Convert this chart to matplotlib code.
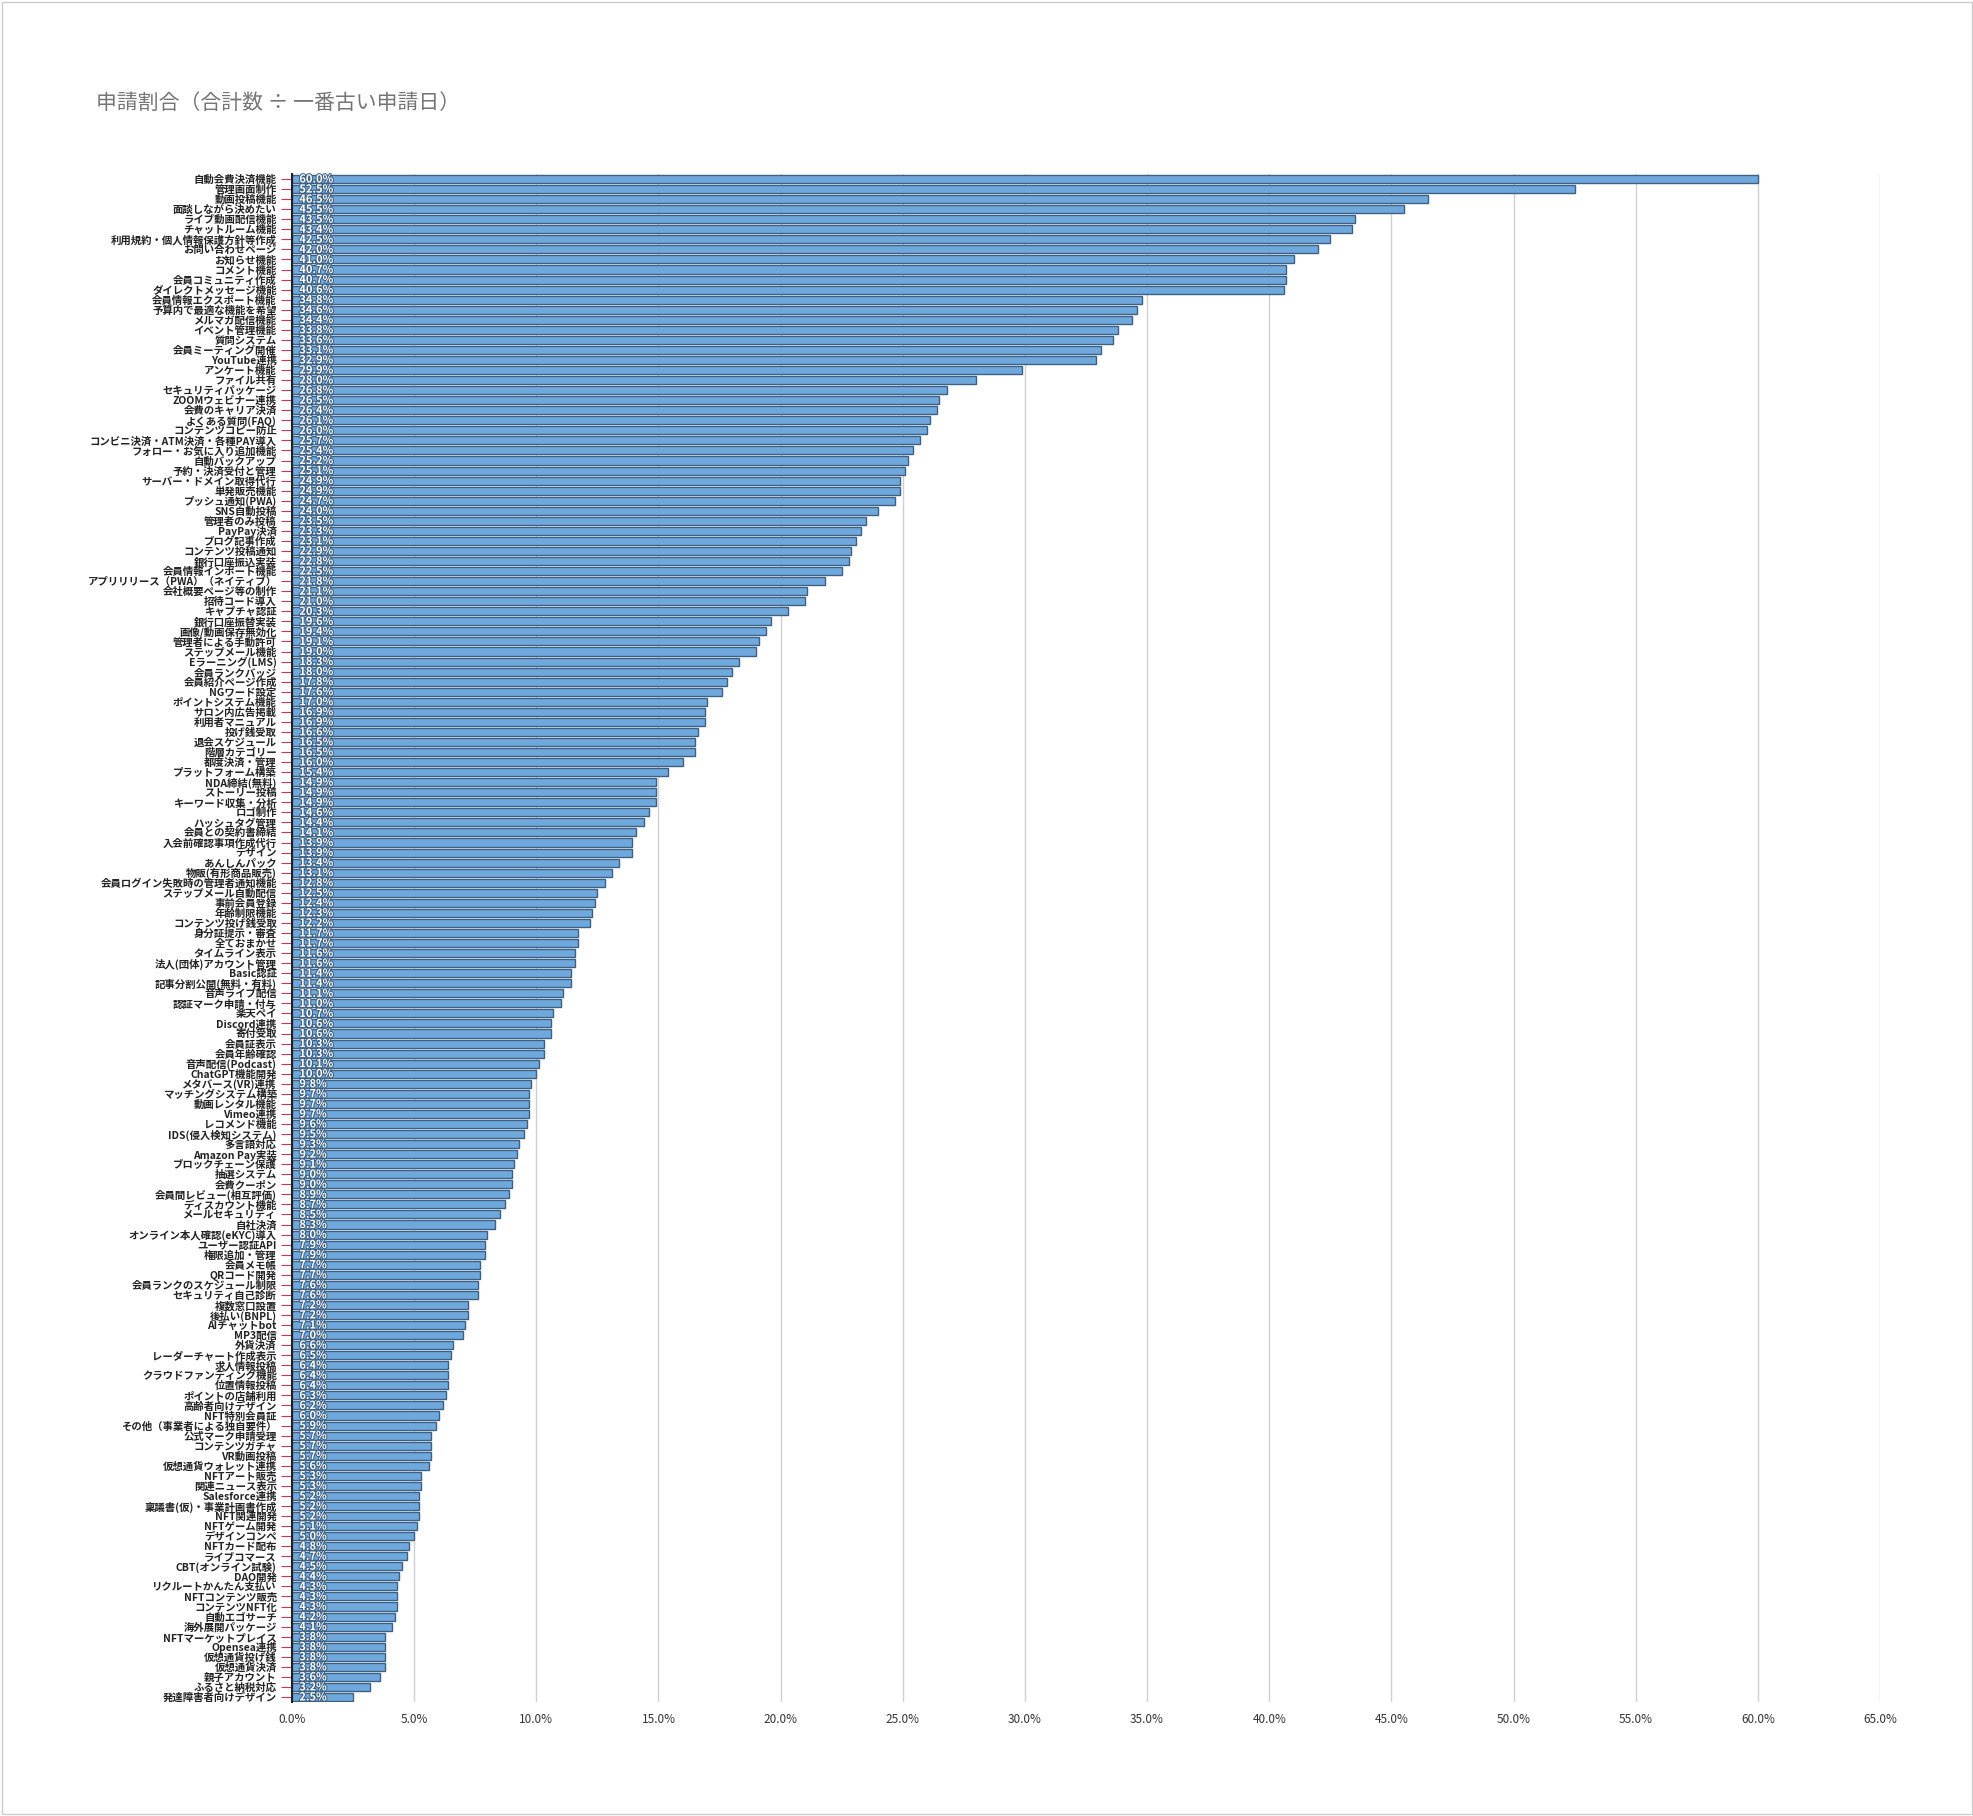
import matplotlib
matplotlib.use('Agg')
import matplotlib.pyplot as plt
import matplotlib.patheffects as pe
import numpy as np

plt.rcParams['font.family'] = ['Noto Sans CJK JP', 'DejaVu Sans']

labels = [
    '自動会費決済機能', '管理画面制作', '動画投稿機能', '面談しながら決めたい', 'ライブ動画配信機能',
    'チャットルーム機能', '利用規約・個人情報保護方針等作成', 'お問い合わせページ', 'お知らせ機能', 'コメント機能',
    '会員コミュニティ作成', 'ダイレクトメッセージ機能', '会員情報エクスポート機能', '予算内で最適な機能を希望', 'メルマガ配信機能',
    'イベント管理機能', '質問システム', '会員ミーティング開催', 'YouTube連携', 'アンケート機能',
    'ファイル共有', 'セキュリティパッケージ', 'ZOOMウェビナー連携', '会費のキャリア決済', 'よくある質問(FAQ)',
    'コンテンツコピー防止', 'コンビニ決済・ATM決済・各種PAY導入', 'フォロー・お気に入り追加機能', '自動バックアップ', '予約・決済受付と管理',
    'サーバー・ドメイン取得代行', '単発販売機能', 'プッシュ通知(PWA)', 'SNS自動投稿', '管理者のみ投稿',
    'PayPay決済', 'ブログ記事作成', 'コンテンツ投稿通知', '銀行口座振込実装', '会員情報インポート機能',
    'アプリリリース（PWA）（ネイティブ）', '会社概要ページ等の制作', '招待コード導入', 'キャプチャ認証', '銀行口座振替実装',
    '画像/動画保存無効化', '管理者による手動許可', 'ステップメール機能', 'Eラーニング(LMS)', '会員ランクバッジ',
    '会員紹介ページ作成', 'NGワード設定', 'ポイントシステム機能', 'サロン内広告掲載', '利用者マニュアル',
    '投げ銭受取', '退会スケジュール', '階層カテゴリー', '都度決済・管理', 'プラットフォーム構築',
    'NDA締結(無料)', 'ストーリー投稿', 'キーワード収集・分析', 'ロゴ制作', 'ハッシュタグ管理',
    '会員との契約書締結', '入会前確認事項作成代行', 'デザイン', 'あんしんパック', '物販(有形商品販売)',
    '会員ログイン失敗時の管理者通知機能', 'ステップメール自動配信', '事前会員登録', '年齢制限機能', 'コンテンツ投げ銭受取',
    '身分証提示・審査', '全ておまかせ', 'タイムライン表示', '法人(団体)アカウント管理', 'Basic認証',
    '記事分割公開(無料・有料)', '音声ライブ配信', '認証マーク申請・付与', '楽天ペイ', 'Discord連携',
    '寄付受取', '会員証表示', '会員年齢確認', '音声配信(Podcast)', 'ChatGPT機能開発',
    'メタバース(VR)連携', 'マッチングシステム構築', '動画レンタル機能', 'Vimeo連携', 'レコメンド機能',
    'IDS(侵入検知システム)', '多言語対応', 'Amazon Pay実装', 'ブロックチェーン保護', '抽選システム',
    '会費クーポン', '会員間レビュー(相互評価)', 'ディスカウント機能', 'メールセキュリティ', '自社決済',
    'オンライン本人確認(eKYC)導入', 'ユーザー認証API', '権限追加・管理', '会員メモ帳', 'QRコード開発',
    '会員ランクのスケジュール制限', 'セキュリティ自己診断', '複数窓口設置', '後払い(BNPL)', 'AIチャットbot',
    'MP3配信', '外貨決済', 'レーダーチャート作成表示', '求人情報投稿', 'クラウドファンディング機能',
    '位置情報投稿', 'ポイントの店舗利用', '高齢者向けデザイン', 'NFT特別会員証', 'その他（事業者による独自要件）',
    '公式マーク申請受理', 'コンテンツガチャ', 'VR動画投稿', '仮想通貨ウォレット連携', 'NFTアート販売',
    '関連ニュース表示', 'Salesforce連携', '稟議書(仮)・事業計画書作成', 'NFT関連開発', 'NFTゲーム開発',
    'デザインコンペ', 'NFTカード配布', 'ライブコマース', 'CBT(オンライン試験)', 'DAO開発',
    'リクルートかんたん支払い', 'NFTコンテンツ販売', 'コンテンツNFT化', '自動エゴサーチ', '海外展開パッケージ',
    'NFTマーケットプレイス', 'Opensea連携', '仮想通貨投げ銭', '仮想通貨決済', '親子アカウント',
    'ふるさと納税対応', '発達障害者向けデザイン',
]

values = [
    60.0, 52.5, 46.5, 45.5, 43.5, 43.4, 42.5, 42.0, 41.0, 40.7,
    40.7, 40.6, 34.8, 34.6, 34.4, 33.8, 33.6, 33.1, 32.9, 29.9,
    28.0, 26.8, 26.5, 26.4, 26.1, 26.0, 25.7, 25.4, 25.2, 25.1,
    24.9, 24.9, 24.7, 24.0, 23.5, 23.3, 23.1, 22.9, 22.8, 22.5,
    21.8, 21.1, 21.0, 20.3, 19.6, 19.4, 19.1, 19.0, 18.3, 18.0,
    17.8, 17.6, 17.0, 16.9, 16.9, 16.6, 16.5, 16.5, 16.0, 15.4,
    14.9, 14.9, 14.9, 14.6, 14.4, 14.1, 13.9, 13.9, 13.4, 13.1,
    12.8, 12.5, 12.4, 12.3, 12.2, 11.7, 11.7, 11.6, 11.6, 11.4,
    11.4, 11.1, 11.0, 10.7, 10.6, 10.6, 10.3, 10.3, 10.1, 10.0,
    9.8, 9.7, 9.7, 9.7, 9.6, 9.5, 9.3, 9.2, 9.1, 9.0,
    9.0, 8.9, 8.7, 8.5, 8.3, 8.0, 7.9, 7.9, 7.7, 7.7,
    7.6, 7.6, 7.2, 7.2, 7.1, 7.0, 6.6, 6.5, 6.4, 6.4,
    6.4, 6.3, 6.2, 6.0, 5.9, 5.7, 5.7, 5.7, 5.6, 5.3,
    5.3, 5.2, 5.2, 5.2, 5.1, 5.0, 4.8, 4.7, 4.5, 4.4,
    4.3, 4.3, 4.3, 4.2, 4.1, 3.8, 3.8, 3.8, 3.8, 3.6,
    3.2, 2.5,
]

xticks = np.arange(0, 66, 5)

fig = plt.figure(figsize=(19.74, 18.16), dpi=100)
ax = fig.add_axes([292 / 1974, 1 - 1702 / 1816, (1880 - 292) / 1974, (1702 - 174) / 1816])

y = np.arange(len(labels))
ax.barh(y, values, height=0.8, color='#6fa8dc', edgecolor='#3d6185', linewidth=1.0, zorder=3)
ax.set_ylim(len(labels) - 0.5, -0.5)
ax.set_xlim(0, 65)
ax.set_yticks(y)
ax.set_yticklabels(labels, fontsize=7.5, fontweight='bold', color='#222222')
ax.tick_params(axis='y', length=8, color='#cc3366', width=0.8, pad=3)
ax.set_xticks(xticks)
ax.set_xticklabels([f'{t:.1f}%' for t in xticks], fontsize=8.5, color='#333333')
ax.tick_params(axis='x', length=0, pad=8)
ax.grid(axis='x', color='#d0d0d0', linewidth=1, zorder=0)

for s in ('top', 'right', 'bottom'):
    ax.spines[s].set_visible(False)
ax.spines['left'].set_color('#222222')
ax.spines['left'].set_linewidth(1.5)
ax.spines['left'].set_zorder(4)

for yi, v in zip(y, values):
    ax.text(0.3, yi, f'{v:.1f}%', va='center', ha='left', fontsize=8, fontweight='bold',
            color='white', zorder=5,
            path_effects=[pe.withStroke(linewidth=1.5, foreground='#3d6185')])

fig.text(96 / 1974, 1 - 103 / 1816, '申請割合（合計数 ÷ 一番古い申請日）', fontsize=15,
         color='#757575', va='center', ha='left')

# outer frame
fig.patches.append(plt.Rectangle((0.001, 0.001), 0.998, 0.998, transform=fig.transFigure,
                                 fill=False, edgecolor='#cccccc', linewidth=1))

fig.savefig('out.png', dpi=100, facecolor='white')
